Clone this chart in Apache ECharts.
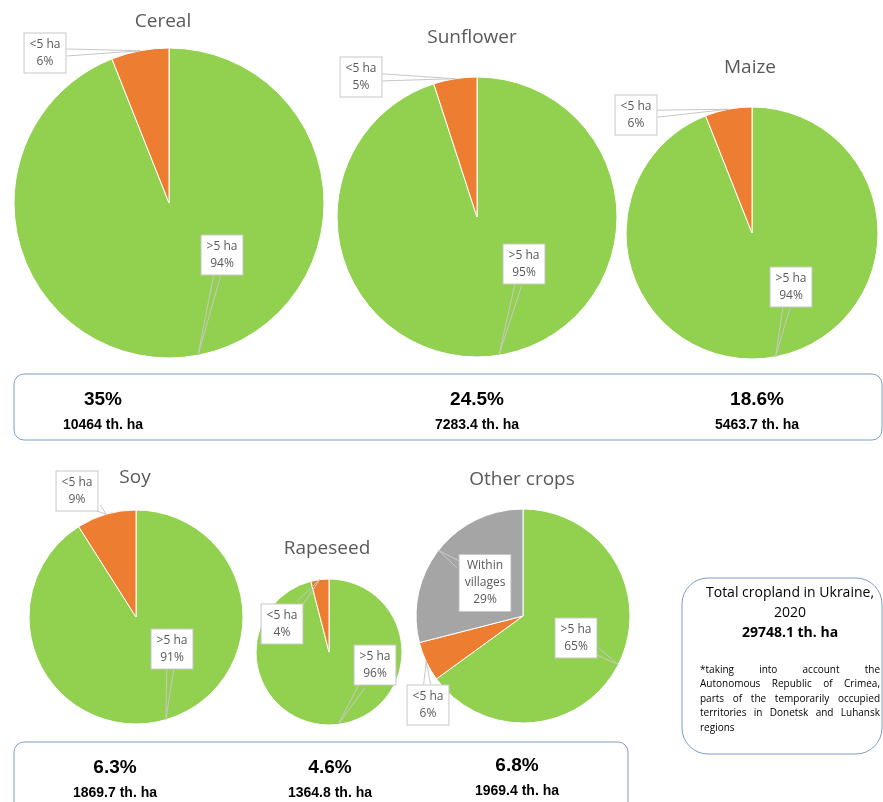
<!DOCTYPE html>
<html>
<head>
<meta charset="utf-8">
<script src="https://cdn.jsdelivr.net/npm/echarts@6/dist/echarts.min.js"></script>
<style>
  html, body { margin: 0; padding: 0; background: #fff; }
  #main { width: 883px; height: 802px; }
</style>
</head>
<body>
<div id="main"></div>
<script>
// data
const crops = ['Cereal', 'Sunflower', 'Maize', 'Soy', 'Rapeseed', 'Other crops']
const farmTypes = ['>5 ha', '<5 ha', 'Within\nvillages']
const bigFarms = [94, 95, 94, 91, 96, 65]    // >5 ha, %
const smallFarms = [6, 5, 6, 9, 4, 6]        // <5 ha, %
const villages = [0, 0, 0, 0, 0, 29]         // within villages, %
const shares = ['35%', '24.5%', '18.6%', '6.3%', '4.6%', '6.8%']
const areas = ['10464', '7283.4', '5463.7', '1869.7', '1364.8', '1969.4']
const totalArea = '29748.1'
const noteLines = [
  '*taking into account the',
  'Autonomous Republic of Crimea,',
  'parts of the temporarily occupied',
  'territories in Donetsk and Luhansk',
  'regions'
]

// layout
const pieCenter = [[169, 203], [477, 217], [752, 233], [136, 617], [329, 652], [523, 616]]
const pieRadius = [155, 140, 126, 107, 73, 107]
const titlePos = [[163, 22], [472, 38], [750, 68], [135, 478], [327, 549], [522, 480]]
// label box centres: >5 ha, <5 ha, within villages
const labelPos = [
  [[222, 255], [45, 53]],
  [[524, 264], [361, 77]],
  [[791, 287], [636, 115]],
  [[172, 649], [77, 491]],
  [[375, 665], [282, 624]],
  [[576, 638], [428, 705], [485, 583]]
]
const amountPos = [[103, 400], [477, 400], [757, 400], [115, 768], [330, 768], [517, 766]]

const colors = ['#92d050', '#ed7d31', '#a5a5a5']
const grayText = '#595959'
const boxLine = '#7f9dc6'
const numFont = '"Liberation Sans Narrow", "Liberation Sans", sans-serif'

let chart = echarts.init(document.getElementById('main'))

// callout wedge: from the side of the label box to the anchor on the slice edge
function calloutPoints (cx, cy, w, h, anchor) {
  let dx = anchor[0] - cx
  let dy = anchor[1] - cy
  let len = Math.sqrt(dx * dx + dy * dy) || 1
  let t = Math.min((w / 2) / (Math.abs(dx) || 1e-6), (h / 2) / (Math.abs(dy) || 1e-6))
  let bx = cx + dx * t
  let by = cy + dy * t
  let px = -dy / len * 3.5
  let py = dx / len * 3.5
  return [[bx + px, by + py], anchor, [bx - px, by - py]]
}

function pieData (i) {
  let data = [
    { name: farmTypes[0], value: bigFarms[i], itemStyle: { color: colors[0] } },
    { name: farmTypes[1], value: smallFarms[i], itemStyle: { color: colors[1] } }
  ]
  if (villages[i] > 0) {
    data.push({ name: farmTypes[2], value: villages[i], itemStyle: { color: colors[2] } })
  }
  return data
}

let series = []
crops.forEach((name, i) => {
  // the slices
  series.push({
    type: 'pie',
    name: name,
    z: 2,
    center: pieCenter[i],
    radius: pieRadius[i],
    startAngle: 90,
    clockwise: true,
    silent: true,
    itemStyle: { borderColor: '#fff', borderWidth: 1 },
    label: { show: false },
    labelLine: { show: false },
    data: pieData(i)
  })
  // same pie again, see-through, only for the callouts so their lines sit above the slices
  series.push({
    type: 'pie',
    name: name + ' labels',
    z: 3,
    center: pieCenter[i],
    radius: pieRadius[i],
    startAngle: 90,
    clockwise: true,
    silent: true,
    avoidLabelOverlap: false,
    minShowLabelAngle: 0,
    itemStyle: { color: 'rgba(0,0,0,0)', borderWidth: 0 },
    label: {
      show: true,
      position: 'outside',
      formatter: '{b}\n{c}%',
      color: grayText,
      fontFamily: '"Open Sans", sans-serif',
      fontSize: 12,
      lineHeight: 17,
      backgroundColor: '#fff',
      borderColor: '#c8c8c8',
      borderWidth: 1,
      padding: [3, 5, 2, 5],
      align: 'center'
    },
    labelLine: {
      show: true,
      length: 8,
      length2: 8,
      lineStyle: { color: '#c8c8c8', width: 1 }
    },
    labelLayout: function (p) {
      let pos = labelPos[i][p.dataIndex]
      let res = { x: pos[0], y: pos[1], align: 'center', verticalAlign: 'middle' }
      if (p.labelLinePoints && p.labelRect) {
        res.labelLinePoints = calloutPoints(pos[0], pos[1], p.labelRect.width, p.labelRect.height, p.labelLinePoints[0])
      }
      return res
    },
    data: pieData(i).map(d => ({ name: d.name, value: d.value }))
  })
})

let graphics = []

// crop titles
crops.forEach((name, i) => {
  graphics.push({
    type: 'text', x: titlePos[i][0], y: titlePos[i][1],
    style: {
      text: name, fill: grayText, font: '19px "Open Sans", sans-serif',
      align: 'center', verticalAlign: 'middle', textAlign: 'center', textVerticalAlign: 'middle'
    }
  })
})

// frames
graphics.push({ type: 'rect', shape: { x: 14, y: 374, width: 868, height: 66, r: 10 }, style: { fill: 'transparent', stroke: boxLine, lineWidth: 1 } })
graphics.push({ type: 'rect', shape: { x: 14, y: 742, width: 614, height: 70, r: 10 }, style: { fill: 'transparent', stroke: boxLine, lineWidth: 1 } })
graphics.push({ type: 'rect', shape: { x: 682, y: 578, width: 200, height: 176, r: 26 }, style: { fill: 'transparent', stroke: boxLine, lineWidth: 1 } })

// shares and areas
crops.forEach((name, i) => {
  let p = amountPos[i]
  graphics.push({
    type: 'text', x: p[0], y: p[1],
    style: {
      text: shares[i], fill: '#000', font: 'bold 19px ' + numFont,
      align: 'center', verticalAlign: 'middle', textAlign: 'center', textVerticalAlign: 'middle'
    }
  })
  graphics.push({
    type: 'text', x: p[0], y: p[1] + 25,
    style: {
      text: areas[i] + ' th. ha', fill: '#000', font: 'bold 14px ' + numFont,
      align: 'center', verticalAlign: 'middle', textAlign: 'center', textVerticalAlign: 'middle'
    }
  })
})

// total box
const totalLines = [
  ['Total cropland in Ukraine,', 'normal', 593],
  ['2020', 'normal', 613],
  [totalArea + ' th. ha', 'bold', 633]
]
totalLines.forEach(l => {
  graphics.push({
    type: 'text', x: 790, y: l[2],
    style: {
      text: l[0], fill: '#000', font: l[1] + ' 14px "Open Sans", sans-serif',
      align: 'center', verticalAlign: 'middle', textAlign: 'center', textVerticalAlign: 'middle'
    }
  })
})

// justified note text
const noteFont = '10px "Open Sans", sans-serif'
const ctx = document.createElement('canvas').getContext('2d')
ctx.font = noteFont
const noteLeft = 700
const noteRight = 880
noteLines.forEach((line, k) => {
  let y = 670 + k * 14.5
  let words = line.split(' ')
  if (k === noteLines.length - 1 || words.length < 2) {
    graphics.push({ type: 'text', x: noteLeft, y: y, style: { text: line, fill: '#000', font: noteFont, verticalAlign: 'middle', textVerticalAlign: 'middle' } })
    return
  }
  let widths = words.map(w => ctx.measureText(w).width)
  let total = widths.reduce((a, b) => a + b, 0)
  let gap = (noteRight - noteLeft - total) / (words.length - 1)
  let x = noteLeft
  words.forEach((w, j) => {
    graphics.push({ type: 'text', x: x, y: y, style: { text: w, fill: '#000', font: noteFont, verticalAlign: 'middle', textVerticalAlign: 'middle' } })
    x += widths[j] + gap
  })
})

chart.setOption({
  animation: false,
  backgroundColor: '#fff',
  series: series,
  graphic: graphics
})
</script>
</body>
</html>
